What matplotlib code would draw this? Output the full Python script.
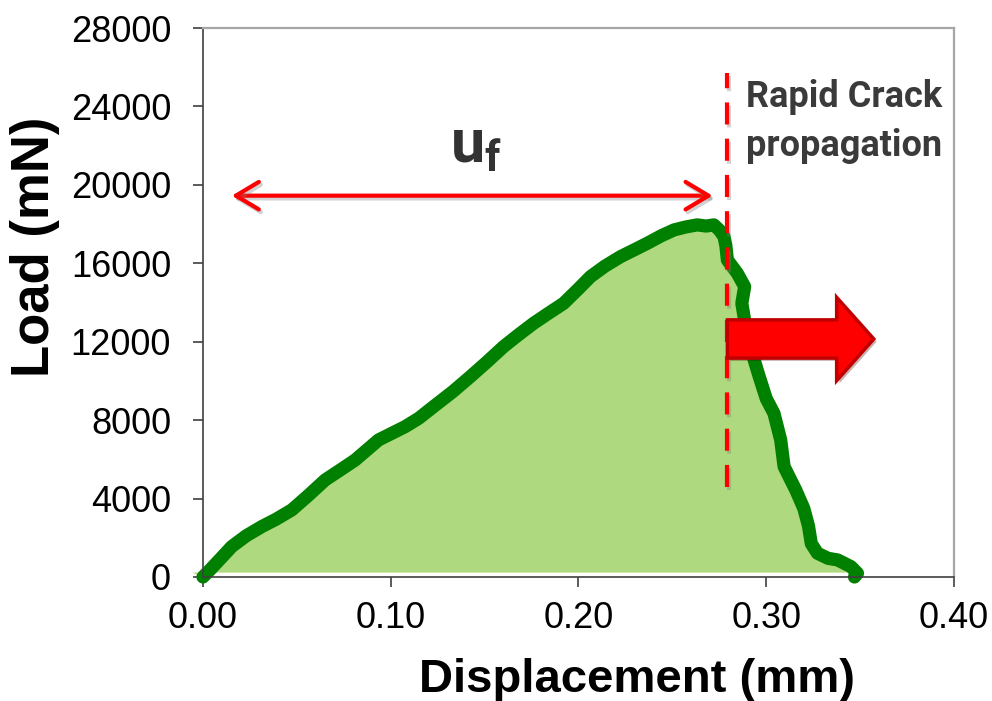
import matplotlib
matplotlib.use("Agg")
import matplotlib.pyplot as plt
import matplotlib.patheffects as pe
from matplotlib.patches import FancyArrow

plt.rcParams['font.family'] = ['Liberation Sans', 'DejaVu Sans']
plt.rcParams['mathtext.fontset'] = 'custom'
plt.rcParams['mathtext.bf'] = 'Roboto:bold'
plt.rcParams['mathtext.rm'] = 'Roboto:bold'

# Load-displacement record of the notched specimen
displacement = [0.000, 0.0037, 0.0090, 0.0153, 0.0230, 0.0313, 0.0390, 0.0473,
                0.0560, 0.0651, 0.0730, 0.0811, 0.0935, 0.1077, 0.1150, 0.1228,
                0.1330, 0.1424, 0.1510, 0.1601, 0.1680, 0.1761, 0.1840, 0.1921,
                0.2000, 0.2064, 0.2140, 0.2224, 0.2300, 0.2366, 0.2440, 0.2508,
                0.2570, 0.2632, 0.2680, 0.2721, 0.2750, 0.2775, 0.2785, 0.2793,
                0.2846, 0.2885, 0.2870, 0.2890, 0.2916, 0.2960, 0.3000, 0.3041,
                0.3077, 0.3095, 0.3157, 0.3200, 0.3225, 0.3240, 0.3273, 0.3330,
                0.3380, 0.3451, 0.3486, 0.3470]
load = [0, 360, 900, 1550, 2100, 2570, 2950, 3420,
        4150, 4950, 5450, 5970, 6990, 7670, 8100, 8690,
        9450, 10220, 10950, 11750, 12350, 12940, 13450, 13960,
        14700, 15320, 15850, 16340, 16700, 17020, 17400, 17700,
        17850, 17960, 17900, 17960, 17700, 17360, 16900, 16170,
        15490, 14810, 13960, 12800, 11700, 10300, 9100, 8350,
        6990, 5630, 4440, 3500, 2600, 1700, 1210, 950,
        870, 530, 190, 0]

x_ticks = [0.00, 0.10, 0.20, 0.30, 0.40]
y_ticks = [0, 4000, 8000, 12000, 16000, 20000, 24000, 28000]

crack_x = 0.2793          # onset of rapid crack growth (mm)
uf_start = 0.0154         # extent of the u_f span (mm)
uf_end = 0.2714

fig = plt.figure(figsize=(9.92, 7.01), dpi=100)
ax = fig.add_axes([0.2046, 0.1769, 0.7571, 0.7831])

# shaded energy area under the curve, with a small lead-in left of zero
fill_x = [-0.006] + displacement
fill_y = [250] + load
ax.fill_between(fill_x, fill_y, 250, color='#afd97e', lw=0, clip_on=False, zorder=1)
ax.plot(displacement, load, color='#008000', lw=9.5, solid_joinstyle='round',
        solid_capstyle='round', clip_on=False, zorder=2)

ax.set_xlim(0, 0.40)
ax.set_ylim(0, 28000)
ax.set_xticks(x_ticks)
ax.set_xticklabels([f'{v:.2f}' for v in x_ticks])
ax.set_yticks(y_ticks)
ax.tick_params(axis='both', direction='out', length=7, width=1.2, color='#404040',
               labelsize=26)
ax.tick_params(axis='y', pad=16)
ax.tick_params(axis='x', pad=10)
for side in ['left', 'bottom']:
    ax.spines[side].set_color('#404040')
    ax.spines[side].set_linewidth(1.2)
for side in ['top', 'right']:
    ax.spines[side].set_color('#a6a6a6')
    ax.spines[side].set_linewidth(1.6)

fig.text(637 / 992, 1 - 692 / 701, 'Displacement (mm)', ha='center', va='baseline',
         fontsize=34, fontweight='bold')
fig.text(35 / 992, 1 - 247 / 701, 'Load (mN)', ha='center', va='center',
         rotation=90, fontsize=38, fontweight='bold')

shadow = [pe.SimpleLineShadow(offset=(1.5, -2), shadow_color='gray', alpha=0.35), pe.Normal()]

# crack onset marker
ax.plot([crack_x, crack_x], [4600, 25700], color='#ff0000', lw=3, dashes=(5.3, 3.4),
        zorder=4, path_effects=shadow)

# u_f span arrow
ax.annotate('', xy=(uf_end, 19450), xytext=(uf_start, 19450),
            arrowprops=dict(arrowstyle='<->, head_length=0.75, head_width=0.45',
                            color='#ff0000', lw=3, mutation_scale=22,
                            shrinkA=0, shrinkB=0, path_effects=shadow),
            zorder=4)

ax.text(0.1315, 21170, r'$\mathbf{u}_{\mathbf{f}}$', fontsize=44,
        color='#333333', va='baseline', ha='left')

ax.text(0.289, 25400, 'Rapid Crack\npropagation', fontsize=26, fontweight='bold',
        family=['Roboto', 'Liberation Sans'], color='#3a3a3a', va='top', ha='left',
        linespacing=1.45)

# block arrow pointing towards crack growth direction
block = FancyArrow(crack_x, 12140, 0.3573 - crack_x, 0, width=1950, head_width=4250,
                   head_length=0.3573 - 0.3375, length_includes_head=True,
                   facecolor='#ff0000', edgecolor='#c00000', lw=2.5, zorder=5,
                   clip_on=False,
                   path_effects=[pe.SimplePatchShadow(offset=(2, -2), alpha=0.3), pe.Normal()])
ax.add_patch(block)

fig.savefig('out.png', dpi=100)
